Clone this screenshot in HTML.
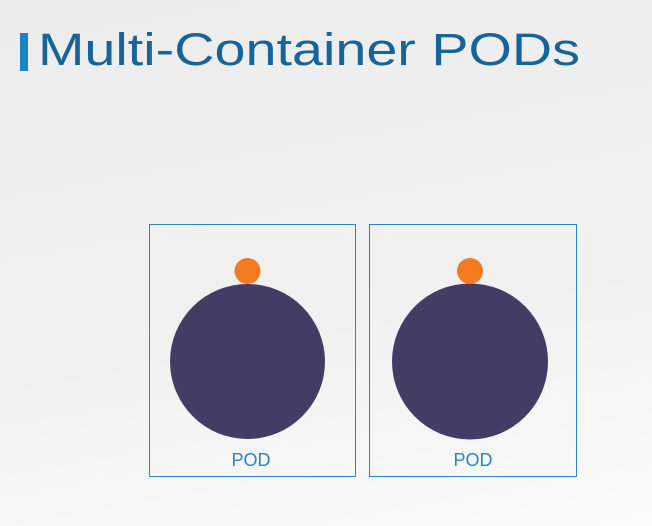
<!DOCTYPE html>
<html><head><meta charset="utf-8"><style>
html,body{margin:0;padding:0;width:652px;height:526px;overflow:hidden}
body{background:linear-gradient(170deg,#ececec 0%,#f1f1f1 60%,#fbfbfb 100%)}
</style></head><body>
<svg width="652" height="526" xmlns="http://www.w3.org/2000/svg">
<rect x="20" y="33" width="8" height="38" fill="#1a84c8"/>
<text x="38" y="65" font-family="Liberation Sans, sans-serif" font-size="45" fill="#17649a" textLength="542" lengthAdjust="spacingAndGlyphs">Multi-Container PODs</text>
<rect x="149.5" y="224.5" width="206" height="252" fill="none" stroke="#2a86c8" stroke-width="1"/>
<rect x="369.5" y="224.5" width="207" height="252" fill="none" stroke="#2a86c8" stroke-width="1"/>
<circle cx="247.5" cy="361.5" r="77.5" fill="#433d66"/>
<circle cx="247.5" cy="271" r="13" fill="#f47b20"/>
<circle cx="470" cy="361.5" r="78" fill="#433d66"/>
<circle cx="470" cy="271" r="13" fill="#f47b20"/>
<text x="251" y="466" text-anchor="middle" font-family="Liberation Sans, sans-serif" font-size="18" fill="#2a86c8">POD</text>
<text x="473" y="466" text-anchor="middle" font-family="Liberation Sans, sans-serif" font-size="18" fill="#2a86c8">POD</text>
</svg>
</body></html>
